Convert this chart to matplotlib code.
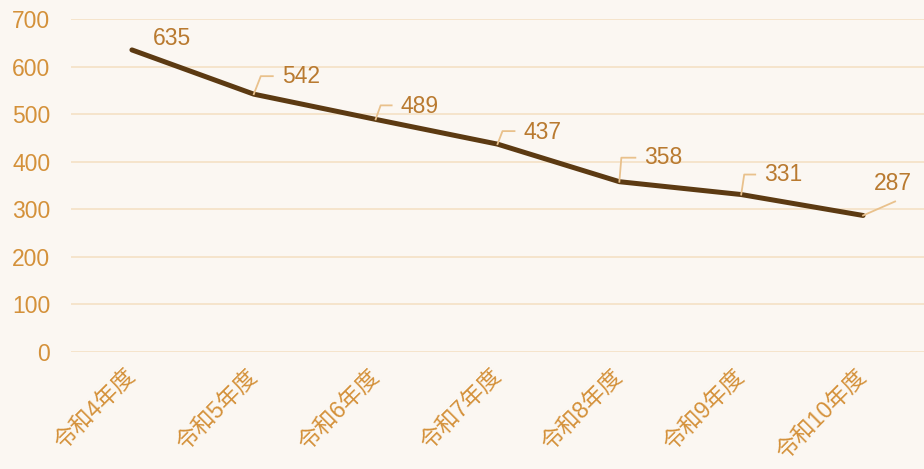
import matplotlib
matplotlib.use("Agg")
import matplotlib.pyplot as plt
from matplotlib.lines import Line2D
from matplotlib.transforms import IdentityTransform

plt.rcParams['font.family'] = ['Liberation Sans', 'Noto Sans CJK JP', 'DejaVu Sans']

categories = ["令和4年度", "令和5年度", "令和6年度", "令和7年度", "令和8年度", "令和9年度", "令和10年度"]
values = [635, 542, 489, 437, 358, 331, 287]
yticks = [0, 100, 200, 300, 400, 500, 600, 700]

# label layout (pixels): (knee dx, leader dy, text dx, text dy, has_leader, ha)
label_layout = [
    (None, None, 21, -11, False, 'left'),
    (7, -18, 28, -18, True, 'left'),
    (5, -14, 25, -13, True, 'left'),
    (5, -13, 26, -12, True, 'left'),
    (2, -24, 25, -24, True, 'left'),
    (3, -20, 23, -20, True, 'left'),
    (32, -14, 30, -32, True, 'center'),
]

bg = '#FBF7F2'
grid_c = '#F5E3C9'
tick_c = '#D4913A'
lab_c = '#B97A30'
line_c = '#5C3A12'
leader_c = '#E9C18C'

W, H = 924, 469
fig = plt.figure(figsize=(W / 100, H / 100), dpi=100, facecolor=bg)
ax = fig.add_axes([71 / W, 117 / H, (924 - 71) / W, (352 - 19) / H], facecolor=bg)

x = list(range(len(categories)))
ax.plot(x, values, color=line_c, lw=3.6, solid_capstyle='round', solid_joinstyle='round', zorder=3)

ax.set_xlim(-0.5, len(categories) - 0.5)
ax.set_ylim(0, 700)
ax.set_yticks(yticks)
ax.set_yticklabels([str(v) for v in yticks], color=tick_c, fontsize=16.5)
ax.set_xticks(x)
ax.set_xticklabels(categories, rotation=45, ha='right', va='center', rotation_mode='anchor',
                   color=tick_c, fontsize=16.5)
ax.tick_params(axis='both', length=0)
ax.tick_params(axis='y', pad=15)
ax.tick_params(axis='x', pad=15)
ax.grid(axis='y', color=grid_c, lw=1.3)
ax.set_axisbelow(True)
for s in ax.spines.values():
    s.set_visible(False)

fig.canvas.draw()
for xi, v, (kdx, ldy, tdx, tdy, lead, ha) in zip(x, values, label_layout):
    px, py = ax.transData.transform((xi, v))
    if lead:
        if ha == 'left':
            xs = [px, px + kdx, px + tdx - 9]
            ys = [py, py - ldy, py - ldy]
        else:
            xs = [px, px + kdx]
            ys = [py, py - ldy]
        fig.add_artist(Line2D(xs, ys, transform=IdentityTransform(), color=leader_c, lw=1.3, zorder=4))
    fig.text((px + tdx) / W, (py - tdy) / H, str(v), ha=ha, va='center', color=lab_c, fontsize=16.5)

fig.savefig("out.png", dpi=100, facecolor=bg)
